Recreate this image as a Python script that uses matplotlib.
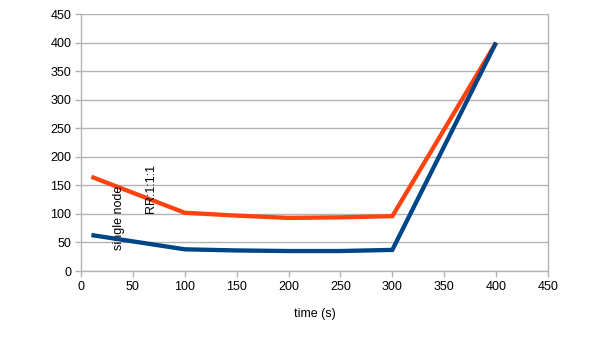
import matplotlib
matplotlib.use('Agg')
import matplotlib.pyplot as plt

plt.rcParams['font.family'] = ['Liberation Sans', 'DejaVu Sans']

# ── DATA ─────────────────────────────────────────────
time_s = [10, 100, 150, 200, 250, 300, 400]
rr_111 = [165, 102, 97, 93, 94, 96, 400]
single_node = [63, 38, 36, 35, 35, 37, 400]
x_ticks = list(range(0, 451, 50))
y_ticks = list(range(0, 451, 50))

RED = '#ff420e'
BLUE = '#004586'
GRID = '#b3b3b3'

fig = plt.figure(figsize=(6.05, 3.4), dpi=100, facecolor='white')
ax = fig.add_axes([0.1339, 0.2029, 0.7719, 0.7559])

ax.plot(time_s, rr_111, color=RED, lw=3.1, solid_joinstyle='miter',
        solid_capstyle='butt', zorder=3)
ax.plot(time_s, single_node, color=BLUE, lw=3.1, solid_joinstyle='miter',
        solid_capstyle='butt', zorder=4)

ax.set_xlim(0, 450)
ax.set_ylim(0, 450)
ax.set_xticks(x_ticks)
ax.set_yticks(y_ticks)
ax.grid(True, axis='y', color=GRID, lw=1.0, zorder=0)
ax.set_axisbelow(True)

ax.spines['top'].set_visible(False)
for s in ['left', 'right', 'bottom']:
    ax.spines[s].set_color(GRID)
    ax.spines[s].set_linewidth(1.0)

ax.tick_params(axis='both', length=4, width=1.0, color=GRID, labelsize=9, labelcolor='black', pad=3)
ax.tick_params(axis='y', right=False)

ax.set_xlabel('time (s)', fontsize=9, labelpad=11)

ax.text(37, 36, 'single node', rotation=90, ha='center', va='bottom', fontsize=9)
ax.text(67, 101, 'RR:1:1:1', rotation=90, ha='center', va='bottom', fontsize=9)

fig.savefig('out.png', dpi=100, facecolor='white')
